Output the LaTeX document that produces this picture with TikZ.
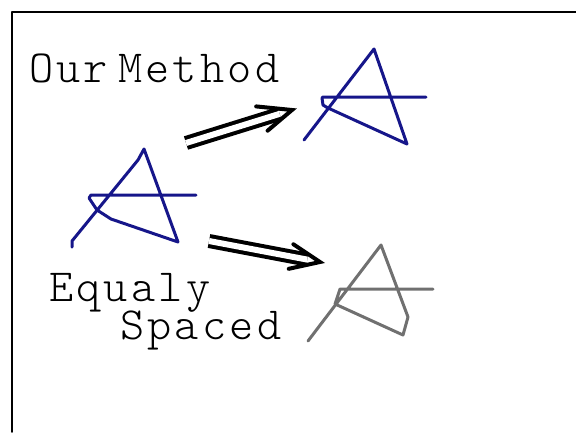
\documentclass[tikz,border=0pt]{standalone}
\usepackage{fontspec}
\newfontfamily\handfont[LetterSpace=7]{Latin Modern Mono Light}
\usetikzlibrary{calc}
\definecolor{inkblue}{HTML}{16168A}
\definecolor{inkgrey}{HTML}{707070}
\tikzset{
  every picture/.style={x=1pt, y=-1pt, line join=round, line cap=round},
  stroke/.style={draw=#1, line width=3pt},
  stroke/.default=inkblue,
  handtext/.style={font=\fontsize{46}{46}\selectfont\handfont, anchor=base west, inner sep=0pt},
  dblline/.style={draw=black, line width=4pt, double distance=6pt, line cap=butt, shorten >=13pt},
  barb/.style={draw=black, line width=4pt, line join=miter},
}
\begin{document}
\begin{tikzpicture}
  \useasboundingbox (0,0) rectangle (576,432);
  \draw[line width=1.6pt] (12,432) -- (12,12) -- (576,12);
  % labels
  \node[handtext] (ours) at (29,82) {Our\hspace{0.22em}Method};
  \node[handtext] (equaly) at (49,301) {Equaly};
  \node[handtext] (spaced) at (120,339) {Spaced};
  % input sketch
  \draw[stroke] (72,247) -- (72,241) -- (138,160) -- (144,149) -- (178,242) -- (111,219)
    -- (97,210) -- (89,198) -- (91,195) -- (196,195);
  % result of our method
  \draw[stroke] (304,140) -- (374,49) -- (407,144) -- (328,108) -- (323,105) -- (322,98)
    -- (323,97) -- (426,97);
  % result with equal spacing
  \draw[stroke=inkgrey] (308,341) -- (381,245) -- (408,317) -- (403,335) -- (335,304)
    -- (338,295) -- (340,289) -- (433,289);
  % arrows
  \coordinate (upfrom) at (186,143);
  \coordinate (upto) at (292,110);
  \coordinate (downfrom) at (209,241);
  \coordinate (downto) at (320,262);
  \draw[dblline] (upfrom) -- (upto);
  \draw[barb] ($(upto)!36pt!-23:(upfrom)$) -- (upto) -- ($(upto)!32pt!23:(upfrom)$);
  \draw[dblline] (downfrom) -- (downto);
  \draw[barb] ($(downto)!32pt!-23:(downfrom)$) -- (downto) -- ($(downto)!32pt!23:(downfrom)$);
\end{tikzpicture}
\end{document}
